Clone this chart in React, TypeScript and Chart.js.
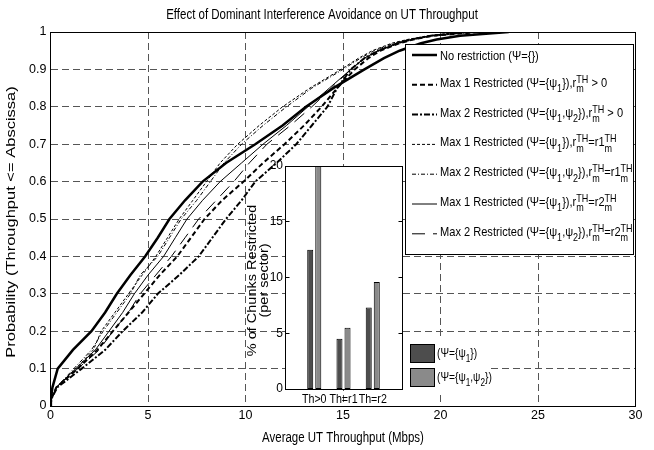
import React, { useEffect, useRef } from 'react';
import { Chart, registerables } from 'chart.js';

Chart.register(...registerables);

const REGULAR = "'Liberation Sans', Arial, sans-serif";
const SQUEEZE = 0.82;

// ---------------- data ----------------
const titleText = 'Effect of Dominant Interference Avoidance on UT Throughput';
const xAxisTitle = 'Average UT Throughput (Mbps)';
const yAxisTitle = 'Probability (Throughput <= Abscissa)';

// probability levels of the CDF curves
const cdfLevels = [0, 0.02, 0.05, 0.1, 0.15, 0.2, 0.25, 0.3, 0.35, 0.4, 0.45, 0.5, 0.55, 0.6, 0.65, 0.7, 0.75, 0.8, 0.85, 0.9, 0.93, 0.95, 0.97, 0.98, 0.99, 1];
// throughput (Mbps) at which each curve reaches the level above
const xNoRestriction = [0, 0.02, 0.1, 0.37, 1.15, 2.1, 2.8, 3.4, 4.1, 4.85, 5.5, 6.1, 6.9, 7.8, 9.0, 10.5, 11.9, 13.1, 14.5, 16.1, 17.1, 17.9, 19.0, 19.8, 21.0, 23.5];
const xMax1Pos = [0, 0.05, 0.3, 1.4, 2.4, 3.2, 4.0, 4.8, 5.6, 6.5, 7.2, 7.9, 8.8, 9.9, 10.9, 12.0, 13.0, 13.9, 14.7, 15.6, 16.3, 16.9, 17.9, 18.6, 19.6, 22];
const xMax2Pos = [0, 0.05, 0.35, 1.6, 2.8, 3.7, 4.7, 5.5, 6.6, 7.6, 8.3, 9.0, 9.8, 10.5, 11.6, 12.6, 13.4, 14.2, 14.7, 15.4, 16.1, 16.8, 17.8, 18.5, 19.5, 21.5];
const xMax1R1 = [0, 0.05, 0.3, 1.3, 2.2, 2.6, 3.3, 4.0, 4.7, 5.4, 6.0, 6.6, 7.3, 8.0, 8.7, 9.6, 10.7, 11.9, 13.3, 14.9, 15.8, 16.5, 17.5, 18.3, 19.4, 21];
const xMax2R1 = [0, 0.05, 0.3, 1.2, 2.1, 2.7, 3.4, 4.1, 4.6, 5.5, 6.1, 6.7, 7.5, 8.2, 8.9, 9.8, 10.9, 12.1, 13.4, 15.0, 15.9, 16.6, 17.6, 18.4, 19.5, 21.2];
const xMax1R2 = [0, 0.05, 0.3, 1.3, 2.3, 3.0, 3.7, 4.3, 5.0, 5.8, 6.4, 7.0, 7.8, 8.7, 9.8, 10.9, 12.1, 13.2, 14.3, 15.4, 16.1, 16.8, 17.8, 18.5, 19.5, 21.5];
const xMax2R2 = [0, 0.05, 0.3, 1.4, 2.5, 3.2, 4.0, 4.6, 5.4, 6.2, 6.9, 7.6, 8.5, 9.4, 10.2, 11.1, 12.3, 13.4, 14.4, 15.4, 16.1, 16.8, 17.8, 18.5, 19.5, 21.5];

const seriesNames = [
  'No restriction',
  'Max 1 Restricted r>0',
  'Max 2 Restricted r>0',
  'Max 1 Restricted r=r1',
  'Max 2 Restricted r=r1',
  'Max 1 Restricted r=r2',
  'Max 2 Restricted r=r2',
];
const seriesX = [xNoRestriction, xMax1Pos, xMax2Pos, xMax1R1, xMax2R1, xMax1R2, xMax2R2];

// inset bar chart
const insetCategories = ['Th>0', 'Th=r1', 'Th=r2'];
const insetPsi1 = [12.5, 4.5, 7.3];
const insetPsi12 = [20, 5.5, 9.6];
const insetYTitle = ['% of Chunks Restricted', '(per sector)'];

// ---------------- rich text ----------------
type Seg = { t: string; k?: 'sub' | 'sup' | 'ss'; s?: string };
const RTH: Seg = { t: 'm', k: 'ss', s: 'TH' };
const s1: Seg = { t: '1', k: 'sub' };
const s2: Seg = { t: '2', k: 'sub' };

const legendLabels: Seg[][] = [
  [{ t: 'No restriction (\u03A8={})' }],
  [{ t: 'Max 1 Restricted (\u03A8={\u03C8' }, s1, { t: '}),r' }, RTH, { t: ' > 0' }],
  [{ t: 'Max 2 Restricted (\u03A8={\u03C8' }, s1, { t: ',\u03C8' }, s2, { t: '}),r' }, RTH, { t: ' > 0' }],
  [{ t: 'Max 1 Restricted (\u03A8={\u03C8' }, s1, { t: '}),r' }, RTH, { t: '=r1' }, RTH],
  [{ t: 'Max 2 Restricted (\u03A8={\u03C8' }, s1, { t: ',\u03C8' }, s2, { t: '}),r' }, RTH, { t: '=r1' }, RTH],
  [{ t: 'Max 1 Restricted (\u03A8={\u03C8' }, s1, { t: '}),r' }, RTH, { t: '=r2' }, RTH],
  [{ t: 'Max 2 Restricted (\u03A8={\u03C8' }, s1, { t: ',\u03C8' }, s2, { t: '}),r' }, RTH, { t: '=r2' }, RTH],
];
const insetLegendLabels: Seg[][] = [
  [{ t: '(\u03A8={\u03C8' }, s1, { t: '})' }],
  [{ t: '(\u03A8={\u03C8' }, s1, { t: ',\u03C8' }, s2, { t: '})' }],
];

const lineStyles = [
  { w: 2.5, dash: [] as number[] },
  { w: 2, dash: [5, 3] },
  { w: 2, dash: [6, 2, 2, 2] },
  { w: 1, dash: [3, 2] },
  { w: 1, dash: [4, 2, 1, 2] },
  { w: 1, dash: [] as number[] },
  { w: 1, dash: [13, 8] },
];

function drawNarrow(ctx: CanvasRenderingContext2D, text: string, x: number, y: number, size: number, align: CanvasTextAlign) {
  ctx.save();
  ctx.translate(x, y);
  ctx.scale(SQUEEZE, 1);
  ctx.font = `${size}px ${REGULAR}`;
  ctx.fillStyle = '#000';
  ctx.textAlign = align;
  ctx.textBaseline = 'middle';
  ctx.fillText(text, 0, 0);
  ctx.restore();
}

function drawRich(ctx: CanvasRenderingContext2D, segs: Seg[], x: number, base: number, size: number, small: number) {
  ctx.save();
  ctx.translate(x, base);
  ctx.scale(SQUEEZE, 1);
  ctx.fillStyle = '#000';
  ctx.textAlign = 'left';
  ctx.textBaseline = 'alphabetic';
  let cx = 0;
  for (const sg of segs) {
    if (!sg.k) {
      ctx.font = `${size}px ${REGULAR}`;
      ctx.fillText(sg.t, cx, 0);
      cx += ctx.measureText(sg.t).width;
    } else if (sg.k === 'sub') {
      ctx.font = `${small}px ${REGULAR}`;
      ctx.fillText(sg.t, cx, size * 0.4);
      cx += ctx.measureText(sg.t).width;
    } else if (sg.k === 'sup') {
      ctx.font = `${small}px ${REGULAR}`;
      ctx.fillText(sg.t, cx, -size * 0.3);
      cx += ctx.measureText(sg.t).width;
    } else {
      ctx.font = `${small}px ${REGULAR}`;
      ctx.fillText(sg.t, cx, size * 0.4);
      const w1 = ctx.measureText(sg.t).width;
      ctx.fillText(sg.s || '', cx, -size * 0.3);
      const w2 = ctx.measureText(sg.s || '').width;
      cx += Math.max(w1, w2);
    }
  }
  ctx.restore();
}

const al = (v: number) => Math.round(v - 0.5) + 0.5;

// ---------------- plugins ----------------
const mainFramePlugin = {
  id: 'mainFrame',
  afterDatasetsDraw(chart: any) {
    const { ctx, chartArea: a } = chart;
    ctx.save();
    ctx.strokeStyle = '#000';
    ctx.lineWidth = 1;
    ctx.setLineDash([]);
    ctx.strokeRect(al(a.left), al(a.top), Math.round(a.right - a.left), Math.round(a.bottom - a.top));
    ctx.restore();
  },
};

const mainTextPlugin = {
  id: 'mainText',
  afterDraw(chart: any) {
    const { ctx, chartArea: a } = chart;
    // title and x-axis title
    drawNarrow(ctx, titleText, 322, 15, 14, 'center');
    drawNarrow(ctx, xAxisTitle, (a.left + a.right) / 2, 438, 14, 'center');
    // rotated y-axis title
    ctx.save();
    ctx.translate(11, (a.top + a.bottom) / 2 + 3);
    ctx.rotate(-Math.PI / 2);
    ctx.scale(1, 0.8);
    ctx.font = `16.5px ${REGULAR}`;
    ctx.fillStyle = '#000';
    ctx.textAlign = 'center';
    ctx.textBaseline = 'middle';
    ctx.fillText(yAxisTitle, 0, 0);
    ctx.restore();
  },
};

const mainLegendPlugin = {
  id: 'mainLegend',
  afterDraw(chart: any) {
    const { ctx, chartArea: a } = chart;
    const bx = Math.round(a.right) - 231;
    const by = Math.round(a.top) + 12;
    ctx.save();
    ctx.fillStyle = '#fff';
    ctx.fillRect(bx, by, 228, 210);
    ctx.strokeStyle = '#000';
    ctx.lineWidth = 1;
    ctx.strokeRect(bx + 0.5, by + 0.5, 228, 210);
    legendLabels.forEach((segs, i) => {
      const y = by + 11 + i * 29.8;
      const st = lineStyles[i];
      ctx.save();
      ctx.setLineDash(st.dash);
      ctx.lineWidth = st.w;
      ctx.strokeStyle = '#000';
      ctx.beginPath();
      ctx.moveTo(bx + 7, y);
      ctx.lineTo(bx + 32, y);
      ctx.stroke();
      ctx.restore();
      drawRich(ctx, segs, bx + 35, i === 0 ? y + 5 : y + 2, 13.5, 11);
    });
    ctx.restore();
  },
};

const insetBgPlugin = {
  id: 'insetBg',
  beforeDraw(chart: any) {
    const { ctx, chartArea: a } = chart;
    ctx.save();
    ctx.fillStyle = '#fff';
    ctx.fillRect(a.left, a.top, a.right - a.left, a.bottom - a.top);
    ctx.restore();
  },
};

const insetFramePlugin = {
  id: 'insetFrame',
  afterDatasetsDraw(chart: any) {
    const { ctx, chartArea: a, scales } = chart;
    ctx.save();
    ctx.strokeStyle = '#000';
    ctx.lineWidth = 1;
    ctx.strokeRect(al(a.left), al(a.top), Math.round(a.right - a.left), Math.round(a.bottom - a.top));
    ctx.beginPath();
    scales.y.ticks.forEach((t: any) => {
      const py = al(scales.y.getPixelForValue(t.value));
      ctx.moveTo(al(a.left), py);
      ctx.lineTo(al(a.left) + 4, py);
      ctx.moveTo(al(a.right), py);
      ctx.lineTo(al(a.right) - 4, py);
    });
    ctx.stroke();
    ctx.restore();
    // category labels
    const labels: string[] = chart.data.labels;
    labels.forEach((lab, i) => {
      if (lab) drawNarrow(ctx, lab, scales.x.getPixelForValue(i), a.bottom + 10, 13, 'center');
    });
    // rotated y title
    ctx.save();
    ctx.fillStyle = '#000';
    ctx.translate(23, (a.top + a.bottom) / 2 + 3);
    ctx.rotate(-Math.PI / 2);
    ctx.scale(1, 0.85);
    ctx.font = `14.5px ${REGULAR}`;
    ctx.textAlign = 'center';
    ctx.textBaseline = 'middle';
    insetYTitle.forEach((line, i) => ctx.fillText(line, 0, i * 13.5));
    ctx.restore();
  },
};

const insetLegendPlugin = {
  id: 'insetLegend',
  afterDraw(chart: any) {
    const { ctx, chartArea: a } = chart;
    const lx = Math.round(a.right);
    const ly = Math.round(a.bottom) - 51;
    ctx.save();
    ctx.fillStyle = '#fff';
    ctx.fillRect(lx + 1, ly, 88, 54);
    const fills = ['#4d4d4d', '#8a8a8a'];
    insetLegendLabels.forEach((segs, i) => {
      const y = ly + 6 + i * 24;
      ctx.fillStyle = fills[i];
      ctx.fillRect(lx + 8, y, 25, 19);
      ctx.strokeStyle = '#000';
      ctx.lineWidth = 1;
      ctx.strokeRect(lx + 8.5, y + 0.5, 24, 18);
      drawRich(ctx, segs, lx + 35, y + 13, 12.5, 10);
    });
    ctx.restore();
  },
};

export default function App() {
  const mainRef = useRef<HTMLCanvasElement>(null);
  const insetRef = useRef<HTMLCanvasElement>(null);

  useEffect(() => {
    const main = new Chart(mainRef.current as HTMLCanvasElement, {
      type: 'line',
      data: {
        datasets: seriesX.map((xs, i) => ({
          label: seriesNames[i],
          data: cdfLevels.map((p, j) => ({ x: xs[j], y: p })),
          borderColor: '#000',
          backgroundColor: '#000',
          borderWidth: lineStyles[i].w,
          borderDash: lineStyles[i].dash,
          pointRadius: 0,
          fill: false,
          tension: 0,
        })),
      },
      options: {
        responsive: false,
        animation: false,
        devicePixelRatio: 1,
        layout: { padding: { left: 0, right: 18.5, top: 32, bottom: 0 } },
        plugins: {
          legend: { display: false },
          tooltip: { enabled: false },
          title: { display: false },
        },
        scales: {
          x: {
            type: 'linear',
            min: 0,
            max: 30,
            ticks: { stepSize: 5, color: '#000', font: { family: REGULAR, size: 12.5 }, padding: 2, maxRotation: 0, autoSkip: false },
            grid: { color: '#555', lineWidth: 1, drawTicks: false },
            border: { display: false, dash: [7, 4] },
            afterFit: (s: any) => { s.height = 44; },
          },
          y: {
            type: 'linear',
            min: 0,
            max: 1,
            ticks: {
              stepSize: 0.1,
              color: '#000',
              font: { family: REGULAR, size: 12.5 },
              padding: 4,
              callback: (v: any) => String(Math.round(Number(v) * 10) / 10),
            },
            grid: { color: '#555', lineWidth: 1, drawTicks: false },
            border: { display: false, dash: [7, 4] },
            afterFit: (s: any) => { s.width = 50.5; },
          },
        },
      },
      plugins: [mainFramePlugin, mainTextPlugin, mainLegendPlugin],
    } as any);

    const inset = new Chart(insetRef.current as HTMLCanvasElement, {
      type: 'bar',
      data: {
        labels: ['', ...insetCategories, ''],
        datasets: [
          { label: 'psi1', data: [null, ...insetPsi1, null], backgroundColor: '#4d4d4d', borderColor: '#000', borderWidth: 1, borderSkipped: false },
          { label: 'psi1psi2', data: [null, ...insetPsi12, null], backgroundColor: '#8a8a8a', borderColor: '#000', borderWidth: 1, borderSkipped: false },
        ],
      },
      options: {
        responsive: false,
        animation: false,
        devicePixelRatio: 1,
        layout: { padding: { top: 16, right: 98, bottom: 0, left: 0 } },
        datasets: { bar: { categoryPercentage: 0.55, barPercentage: 0.75 } },
        plugins: { legend: { display: false }, tooltip: { enabled: false }, title: { display: false } },
        scales: {
          x: {
            type: 'category',
            offset: false,
            grid: { display: false, drawTicks: false },
            border: { display: false },
            ticks: { display: false },
            afterFit: (s: any) => { s.height = 21; },
          },
          y: {
            min: 0,
            max: 20,
            ticks: { stepSize: 5, color: '#000', font: { family: REGULAR, size: 12 }, padding: 2 },
            grid: { display: false, drawTicks: false },
            border: { display: false },
            afterFit: (s: any) => { s.width = 55; },
          },
        },
      },
      plugins: [insetBgPlugin, insetFramePlugin, insetLegendPlugin],
    } as any);

    return () => {
      main.destroy();
      inset.destroy();
    };
  }, []);

  return (
    <div style={{ position: 'fixed', left: 0, top: 0, width: 654, height: 450, background: '#fff' }}>
      <canvas ref={mainRef} width={654} height={450} style={{ position: 'absolute', left: 0, top: 0 }} />
      <canvas ref={insetRef} width={270} height={260} style={{ position: 'absolute', left: 230, top: 150 }} />
    </div>
  );
}
